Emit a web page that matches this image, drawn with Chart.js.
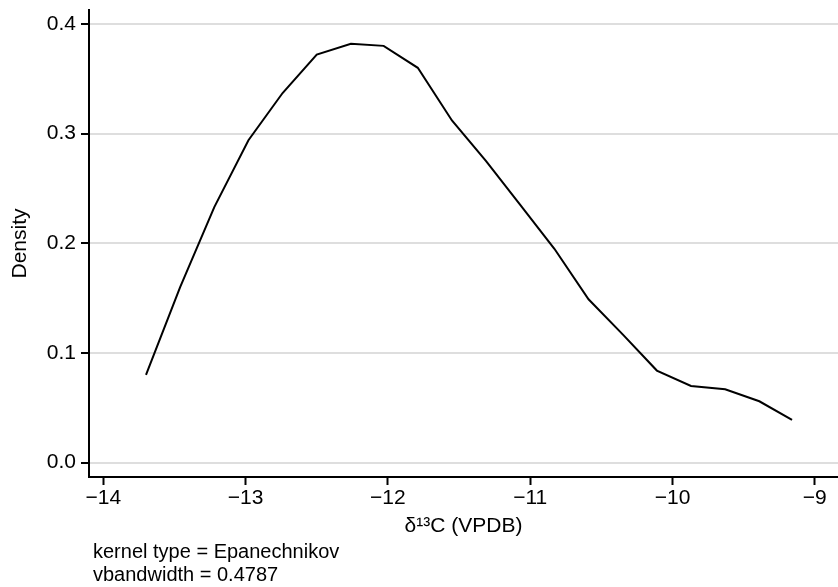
<!DOCTYPE html>
<html lang="en">
<head>
  <meta charset="UTF-8" />
  <title>Kernel density - d13C</title>
  <script src="https://cdn.jsdelivr.net/npm/chart.js"></script>
  <style>
    body { margin: 0; background: #fff; }
    #wrap { width: 838px; height: 587px; }
  </style>
</head>
<body>
<div id="wrap">
  <canvas id="densityChart" width="838" height="587"></canvas>
</div>
<script>
  // values
  const xValues = [-13.70, -13.46, -13.22, -12.98, -12.74, -12.50, -12.26, -12.03, -11.79, -11.55,
                   -11.31, -11.07, -10.83, -10.59, -10.35, -10.11, -9.87, -9.63, -9.39, -9.16];
  const density = [0.080, 0.160, 0.233, 0.294, 0.337, 0.372, 0.382, 0.380, 0.360, 0.312,
                   0.275, 0.235, 0.195, 0.149, 0.117, 0.084, 0.070, 0.067, 0.056, 0.039];
  const xTicks = [-14, -13, -12, -11, -10, -9];
  const yTicks = [0, 0.1, 0.2, 0.3, 0.4];
  const noteLines = ["kernel type = Epanechnikov", "vbandwidth = 0.4787"];

  const FONT = "'Liberation Sans', Arial, Helvetica, sans-serif";

  const points = xValues.map((x, i) => ({ x: x, y: density[i] }));

  // footnote under the x axis, Stata style
  const notePlugin = {
    id: "note",
    afterDraw(chart) {
      const c = chart.ctx;
      c.save();
      c.font = "20px " + FONT;
      c.fillStyle = "#000";
      c.textAlign = "left";
      c.textBaseline = "alphabetic";
      const left = chart.chartArea.left + 4;
      c.fillText(noteLines[0], left, 558);
      c.fillText(noteLines[1], left, 581);
      c.restore();
    }
  };

  new Chart(document.getElementById("densityChart").getContext("2d"), {
    type: "scatter",
    data: {
      datasets: [{
        data: points,
        showLine: true,
        borderColor: "#000",
        borderWidth: 2,
        pointRadius: 0,
        tension: 0,
        fill: false
      }]
    },
    options: {
      responsive: false,
      animation: false,
      devicePixelRatio: 1,
      layout: { padding: { top: 10, right: 0, bottom: 48, left: 0 } },
      plugins: {
        legend: { display: false },
        tooltip: { enabled: false }
      },
      scales: {
        x: {
          type: "linear",
          min: -14.1005,
          max: -8.837,
          afterBuildTicks: (scale) => { scale.ticks = xTicks.map(v => ({ value: v })); },
          afterFit: (scale) => {
            scale.height = 62;
            scale.paddingLeft = 0; scale.paddingRight = 0;
          },
          ticks: {
            autoSkip: false,
            maxRotation: 0,
            padding: 1,
            color: "#000",
            font: { family: FONT, size: 21 },
            callback: (v) => (v < 0 ? "\u2212" + Math.abs(v) : String(v))
          },
          grid: {
            drawOnChartArea: false,
            drawTicks: true,
            tickLength: 8,
            tickColor: "#000",
            tickWidth: 2
          },
          border: { display: true, color: "#000", width: 2 },
          title: {
            display: true,
            text: "\u03B4\u00B9\u00B3C (VPDB)",
            color: "#000",
            font: { family: FONT, size: 21 },
            padding: { top: 0, bottom: 0 }
          }
        },
        y: {
          min: -0.01304,
          max: 0.4127,
          afterBuildTicks: (scale) => { scale.ticks = yTicks.map(v => ({ value: v })); },
          afterFit: (scale) => {
            scale.width = 89;
            scale.paddingTop = 0; scale.paddingBottom = 0;
          },
          ticks: {
            padding: 5,
            color: "#000",
            font: { family: FONT, size: 21 },
            callback: (v) => Number(v).toFixed(1)
          },
          grid: {
            color: "#dedede",
            lineWidth: 2,
            drawTicks: true,
            tickLength: 8,
            tickColor: "#000",
            tickWidth: 2
          },
          border: { display: true, color: "#000", width: 2 },
          title: {
            display: true,
            text: "Density",
            color: "#000",
            font: { family: FONT, size: 21 },
            padding: { top: 8, bottom: 0 }
          }
        }
      }
    },
    plugins: [notePlugin]
  });
</script>
</body>
</html>
